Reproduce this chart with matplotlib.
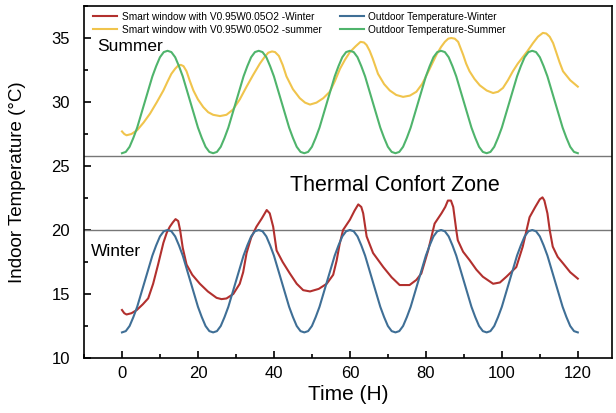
import matplotlib
matplotlib.use("Agg")
import matplotlib.pyplot as plt
from matplotlib.ticker import MultipleLocator

plt.rcParams["font.family"] = ["Liberation Sans", "DejaVu Sans"]

# outdoor temperature, hourly 0..120 h
hours = list(range(0, 121))
outdoor_summer = [
    26.0, 26.1, 26.5, 27.2, 28.0, 29.0, 30.0, 31.0, 32.0, 32.8, 33.5, 33.9, 34.0, 33.9, 33.5, 32.8, 32.0, 31.0, 30.0, 29.0, 28.0, 27.2, 26.5, 26.1,
    26.0, 26.1, 26.5, 27.2, 28.0, 29.0, 30.0, 31.0, 32.0, 32.8, 33.5, 33.9, 34.0, 33.9, 33.5, 32.8, 32.0, 31.0, 30.0, 29.0, 28.0, 27.2, 26.5, 26.1,
    26.0, 26.1, 26.5, 27.2, 28.0, 29.0, 30.0, 31.0, 32.0, 32.8, 33.5, 33.9, 34.0, 33.9, 33.5, 32.8, 32.0, 31.0, 30.0, 29.0, 28.0, 27.2, 26.5, 26.1,
    26.0, 26.1, 26.5, 27.2, 28.0, 29.0, 30.0, 31.0, 32.0, 32.8, 33.5, 33.9, 34.0, 33.9, 33.5, 32.8, 32.0, 31.0, 30.0, 29.0, 28.0, 27.2, 26.5, 26.1,
    26.0, 26.1, 26.5, 27.2, 28.0, 29.0, 30.0, 31.0, 32.0, 32.8, 33.5, 33.9, 34.0, 33.9, 33.5, 32.8, 32.0, 31.0, 30.0, 29.0, 28.0, 27.2, 26.5, 26.1,
    26.0,
]
outdoor_winter = [
    12.0, 12.1, 12.5, 13.2, 14.0, 15.0, 16.0, 17.0, 18.0, 18.8, 19.5, 19.9, 20.0, 19.9, 19.5, 18.8, 18.0, 17.0, 16.0, 15.0, 14.0, 13.2, 12.5, 12.1,
    12.0, 12.1, 12.5, 13.2, 14.0, 15.0, 16.0, 17.0, 18.0, 18.8, 19.5, 19.9, 20.0, 19.9, 19.5, 18.8, 18.0, 17.0, 16.0, 15.0, 14.0, 13.2, 12.5, 12.1,
    12.0, 12.1, 12.5, 13.2, 14.0, 15.0, 16.0, 17.0, 18.0, 18.8, 19.5, 19.9, 20.0, 19.9, 19.5, 18.8, 18.0, 17.0, 16.0, 15.0, 14.0, 13.2, 12.5, 12.1,
    12.0, 12.1, 12.5, 13.2, 14.0, 15.0, 16.0, 17.0, 18.0, 18.8, 19.5, 19.9, 20.0, 19.9, 19.5, 18.8, 18.0, 17.0, 16.0, 15.0, 14.0, 13.2, 12.5, 12.1,
    12.0, 12.1, 12.5, 13.2, 14.0, 15.0, 16.0, 17.0, 18.0, 18.8, 19.5, 19.9, 20.0, 19.9, 19.5, 18.8, 18.0, 17.0, 16.0, 15.0, 14.0, 13.2, 12.5, 12.1,
    12.0,
]

# smart window, summer
t_summer = [0, 0.6, 1.2, 2.5, 4, 5.7, 7.4, 9.2, 10.9, 12, 13, 14, 14.8, 15.5, 16.2, 17, 17.8, 18.8, 20, 21.4, 22.7, 24,
            25.8, 27.5, 29.2, 31, 32.8, 34.5, 36.3, 37.5, 38.5, 39.5, 40.3, 41.3, 42.3, 43.3, 45, 46.8, 48.2, 49.5,
            51.2, 53, 54.7, 56, 57.4, 58.7, 60, 61.5, 62.8, 63.7, 64.4, 65.2, 66, 67.4, 69, 70.5, 72.2, 74, 75.8,
            77.5, 79, 80.2, 81.5, 82.8, 84, 85, 85.9, 86.7, 87.6, 88.5, 89.8, 90.6, 91.5, 92.8, 94.2, 96, 97.7,
            99, 100.3, 101.6, 102.9, 104.2, 105.5, 106.8, 108.2, 109.5, 110.8, 111.7, 112.6, 113.5, 114.3, 115.2,
            116.1, 118, 120]
v_summer = [27.7, 27.5, 27.4, 27.5, 27.8, 28.4, 29.1, 30.0, 30.9, 31.6, 32.2, 32.6, 32.85, 32.9, 32.8, 32.4, 31.7, 30.9, 30.2, 29.6, 29.2, 29.0,
            28.9, 29.0, 29.4, 30.2, 31.2, 32.1, 33.0, 33.5, 33.85, 33.95, 33.9, 33.6, 32.9, 32.0, 31.0, 30.3, 29.95, 29.8,
            29.95, 30.3, 30.8, 31.6, 32.6, 33.3, 33.9, 34.35, 34.7, 34.65, 34.45, 34.0, 33.4, 32.2, 31.4, 30.9, 30.55, 30.4, 30.5,
            30.8, 31.4, 32.1, 32.9, 33.7, 34.3, 34.7, 34.95, 35.0, 34.95, 34.7, 33.7, 33.0, 32.4, 31.8, 31.3, 30.9, 30.7,
            30.8, 31.1, 31.7, 32.4, 33.0, 33.5, 34.0, 34.6, 35.1, 35.4, 35.35, 35.1, 34.6, 33.9, 33.1,
            32.4, 31.7, 31.2]

# smart window, winter
t_winter = [0, 0.6, 1.2, 2.5, 3.9, 5.5, 6.9, 8.2, 9.5, 10.9, 11.8, 12.6, 13.4, 14.1, 14.8, 15.3, 16, 17, 18.5, 20.5, 22.6,
            24.9, 26.2, 27.5, 29.3, 31, 31.9, 32.8, 34, 35.4, 36.8, 38.1, 38.9, 39.8, 40.7, 42.3, 44.2, 46, 47.7, 49.5,
            51.8, 53.9, 55.6, 56.5, 57.3, 58.2, 60, 61.2, 62.2, 63, 63.5, 64.4, 66.1, 68.8, 71, 73.1, 75.7, 77.5, 78.8,
            80.6, 82.3, 84.1, 85.1, 85.8, 86.6, 87.2, 88, 88.4, 89.8, 91.5, 93.3, 95, 97.7, 99.5, 101.2, 103.8, 105.5,
            107.3, 108.8, 110, 110.7, 111.2, 112, 112.6, 113.4, 114.7, 116.1, 118, 120]
v_winter = [13.75, 13.5, 13.4, 13.5, 13.75, 14.2, 14.66, 15.8, 17.3, 19.0, 19.8, 20.26, 20.6, 20.85, 20.7, 20.0, 18.6, 17.3, 16.5, 15.8, 15.2,
            14.7, 14.6, 14.65, 15.0, 15.8, 16.7, 18.2, 19.4, 20.26, 20.9, 21.56, 21.3, 20.26, 18.4, 17.5, 16.6, 15.8, 15.3, 15.2,
            15.4, 15.8, 16.5, 17.6, 18.9, 20.0, 20.8, 21.5, 22.0, 21.8, 21.3, 19.5, 18.2, 17.1, 16.3, 15.7, 15.7, 16.1, 16.6,
            18.4, 20.5, 21.3, 21.8, 22.3, 22.3, 21.8, 20.0, 19.2, 18.3, 17.65, 16.9, 16.35, 15.8, 15.9, 16.35, 17.1, 18.7,
            21.0, 21.8, 22.4, 22.55, 22.3, 21.3, 20.0, 18.7, 17.9, 17.4, 16.7, 16.2]

red = "#b2302e"
yellow = "#f0c44c"
blue = "#3f6f96"
green = "#4fb46c"

fig = plt.figure(figsize=(6.16, 4.13), dpi=100)
ax = fig.add_axes([84 / 616, 55 / 413, 528 / 616, 352 / 413])

ax.axhline(25.8, color="#777777", lw=1)
ax.axhline(20, color="#777777", lw=1)

l1, = ax.plot(t_winter, v_winter, color=red, lw=1.5)
l2, = ax.plot(t_summer, v_summer, color=yellow, lw=1.5)
l3, = ax.plot(hours, outdoor_winter, color=blue, lw=1.5)
l4, = ax.plot(hours, outdoor_summer, color=green, lw=1.5)

ax.set_xlim(-10, 129)
ax.set_ylim(10, 37.5)
ax.xaxis.set_major_locator(MultipleLocator(20))
ax.xaxis.set_minor_locator(MultipleLocator(10))
ax.yaxis.set_major_locator(MultipleLocator(5))
ax.yaxis.set_minor_locator(MultipleLocator(2.5))
ax.tick_params(which="both", direction="in", top=False, right=False, labelsize=12)
ax.tick_params(which="major", length=5, width=1.2)
ax.tick_params(which="minor", length=3, width=1.2)
ax.tick_params(axis="y", pad=10)
ax.tick_params(axis="x", pad=6)
for s in ax.spines.values():
    s.set_linewidth(1.2)

ax.set_xlabel("Time (H)", fontsize=15, labelpad=3)
ax.set_ylabel("Indoor Temperature (\u00b0C)", fontsize=13.5, labelpad=18)

ax.text(-6.5, 34.3, "Summer", fontsize=12.5, va="center", ha="left")
ax.text(-8.3, 18.3, "Winter", fontsize=12.5, va="center", ha="left")
ax.text(71.8, 23.5, "Thermal Confort Zone", fontsize=15.5, va="center", ha="center")

ax.legend([l1, l2, l3, l4],
          ["Smart window with V0.95W0.05O2 -Winter",
           "Smart window with V0.95W0.05O2 -summer",
           "Outdoor Temperature-Winter",
           "Outdoor Temperature-Summer"],
          ncol=2, loc="upper left", bbox_to_anchor=(0.0, 1.01), frameon=False,
          fontsize=7.3, handlelength=2.4, columnspacing=1.8, labelspacing=0.3,
          handletextpad=0.4)

fig.savefig("out.png", dpi=100)
